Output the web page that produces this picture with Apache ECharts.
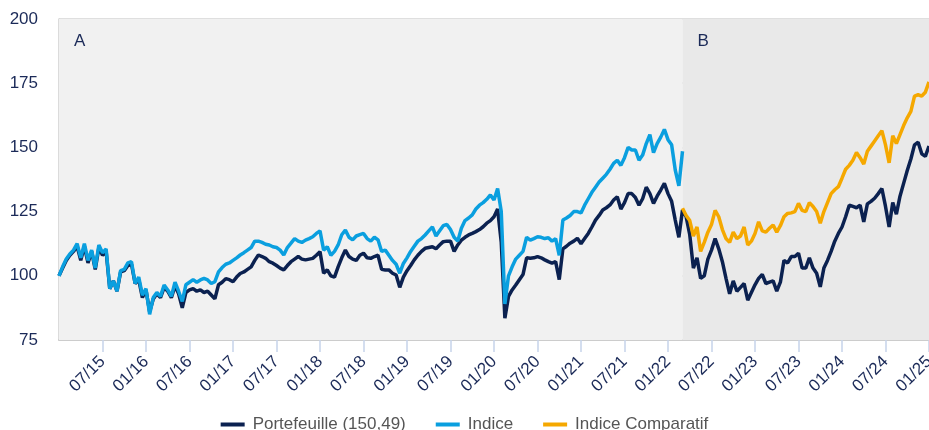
<!DOCTYPE html>
<html><head><meta charset="utf-8">
<script src="https://cdn.jsdelivr.net/npm/echarts@6/dist/echarts.min.js"></script>
<style>html,body{margin:0;padding:0;background:#fff}#c{width:929px;height:430px}</style>
</head><body><div id="c"></div>
<script>
// Semi-monthly observation dates (1st and 16th of each month), Jan 2015 .. Jan 2025
const dates = [];
for (let i = 0; i <= 240; i++) {
  const y = 2015 + Math.floor(i / 24);
  const m = Math.floor((i % 24) / 2) + 1;
  const d = i % 2 ? 16 : 1;
  dates.push(y + '-' + String(m).padStart(2, '0') + '-' + String(d).padStart(2, '0'));
}

const portefeuille = [
  100, 103, 106, 108, 109.5, 111.5, 106, 111.5, 105, 109.5,
  102.5, 111, 108, 109.5, 95, 98, 94, 101.5, 102, 104,
  104.5, 97, 98.5, 91.5, 94.5, 86, 91, 93, 91.5, 95.5,
  94, 91.5, 96, 93, 87.5, 93.5, 94.5, 95, 94, 94.5,
  93.5, 94, 92.5, 91, 96.5, 97.5, 98.9, 98.5, 97.7, 99.5,
  100.9, 101.5, 102.5, 103.5, 106, 108.1, 107.5, 106.8, 105.5, 104.9,
  104, 103, 102.3, 104, 105.5, 106.5, 107.5, 106.5, 106.2, 106.5,
  106.8, 108, 109.4, 101, 102.3, 100, 99.5, 103.5, 107, 110,
  107.5, 106.5, 106, 108, 108.8, 107, 106.8, 107.5, 108, 102.5,
  102.3, 102.3, 101, 100.3, 95.5, 99.5, 102, 104, 106.2, 108,
  109.5, 110.7, 111, 111.3, 110.5, 112, 113.3, 113.5, 113.5, 109.5,
  112, 113.9, 115, 115.9, 116.5, 117.2, 118, 119.1, 120.5, 121.5,
  123, 126, 113, 83.5, 92, 94.5, 96.4, 98.5, 100.5, 107,
  106.8, 107, 107.5, 107, 106.2, 105.5, 104.9, 105.5, 98.5, 110.5,
  111.5, 112.7, 113.5, 114.6, 112.5, 114.5, 116.5, 119, 121.7, 123.5,
  125.6, 126.5, 127.6, 129.5, 130.8, 126, 128.5, 132, 132, 130.5,
  127.5, 130, 134.5, 132, 128.2, 131, 133.4, 136, 132, 129,
  121.7, 115, 125.6, 123, 116, 103, 107, 99, 100, 106.5,
  110, 114.5, 110.5, 105.5, 99, 93, 98, 94, 95.5, 97,
  90.5, 93.5, 96.5, 99, 100.5, 97, 97.5, 98, 94, 97.5,
  106, 105, 107.5, 107.5, 108.8, 103, 103, 107, 103, 101,
  95.7, 103, 106, 109.5, 113.5, 116.5, 119, 123, 127.5, 127,
  126.5, 127.5, 121, 128, 129, 130.2, 132, 134, 127, 119,
  128.5, 124, 131, 136, 141, 145.5, 151, 152, 147.5, 146.5,
  150.5
];

const indice = [
  100, 103.5, 106.5, 108.5, 110, 112.5, 107, 112.5, 106, 110,
  103, 112, 109, 110.5, 95, 98, 94, 102, 102.5, 105,
  105.5, 97, 99.5, 92.5, 95, 85, 91.5, 93.5, 92, 96.4,
  94.5, 92, 97.5, 94, 90, 96.5, 97.5, 98.5, 97.5, 98.4,
  99, 98.4, 97, 97.7, 101.5, 103.2, 104.5, 105, 106, 107,
  108.1, 109, 110, 111, 113.5, 113.5, 113, 112.3, 112, 111.3,
  111, 110, 108.1, 111, 112.7, 114.5, 113.5, 113, 113.9, 114.5,
  115.2, 116.5, 117.5, 110, 111.3, 108, 109.5, 112, 116, 117.8,
  115, 114, 115.5, 116, 116.5, 114.5, 113.5, 115, 114, 109.5,
  110, 108, 106, 104.5, 101, 104.8, 107, 109.5, 111.5, 113.5,
  114.5, 115.9, 117.5, 119, 115.5, 117.5, 119.5, 120, 118, 115,
  113.5, 118.5, 121.5, 122.5, 123.7, 126, 127.5, 128.5, 129.8, 131.5,
  129.5, 134, 125, 89, 100, 103.5, 106.5, 108, 109.5, 115,
  113.9, 114.5, 115.2, 115, 114.5, 114.8, 113.5, 114.5, 108, 121.7,
  122.5, 123.5, 125, 125, 124.5, 127.5, 130, 132.5, 134.5, 136.5,
  138, 139.5, 141.5, 143.8, 145, 143, 146, 150, 149, 149,
  145, 147, 151.5, 155, 148, 151.5, 154, 157, 153, 151,
  141.2, 135, 148.5
];

// Indice Comparatif starts on the date where period B begins
const comparatifStart = '2022-03-01';
const comparatif = [
  126.3, 123.5, 121.5, 115.5, 119, 109.5, 113, 117,
  120, 125.5, 123, 118, 114.5, 113, 117, 114.5, 115.5, 119,
  112, 113.5, 116.5, 121, 117.5, 117, 118.5, 119.8, 117, 119.5,
  123, 124.3, 124.5, 125, 128.2, 125.5, 125, 128.5, 127, 125,
  120.5, 125, 128.5, 132, 133.5, 134.7, 138, 141.5, 143, 145,
  148, 146, 143.5, 148.5, 150.5, 152.5, 154.5, 156.5, 151, 144,
  154.5, 151.5, 155, 158.5, 161.5, 164, 170, 170.5, 170, 171.5,
  175.5
];

const seriesNames = ['Portefeuille (150,49)', 'Indice', 'Indice Comparatif'];
const seriesColors = ['#0b2150', '#0a9fdf', '#f5a800'];
const periods = [
  { name: 'A', from: '2015-01-01', to: '2022-03-01', color: '#f1f1f1' },
  { name: 'B', from: '2022-03-01', to: '2025-01-01', color: '#e9e9e9' }
];
const yTicks = [75, 100, 125, 150, 175, 200];
const xTickDates = ['2015-07-01','2016-01-01','2016-07-01','2017-01-01','2017-07-01','2018-01-01','2018-07-01',
  '2019-01-01','2019-07-01','2020-01-01','2020-07-01','2021-01-01','2021-07-01','2022-01-01','2022-07-01',
  '2023-01-01','2023-07-01','2024-01-01','2024-07-01','2025-01-01'];

function toX(s) {
  const p = s.split('-').map(Number);
  return p[0] + (p[1] - 1) / 12 + (p[2] - 1) / 360;
}
function fmt(v) {
  const y = Math.floor(v + 1e-6);
  const frac = v - y;
  const m = Math.round(frac * 12) + 1;
  return String(m).padStart(2, '0') + '/' + String(y % 100).padStart(2, '0');
}

const compOffset = dates.indexOf(comparatifStart);
const font = "'Liberation Sans', Arial, sans-serif";
const navy = '#1b2a58';

const chart = echarts.init(document.getElementById('c'), null, { renderer: 'canvas' });
chart.setOption({
  animation: false,
  grid: { left: 59, right: 0, top: 19, bottom: 90, containLabel: false, outerBoundsMode: 'none' },
  legend: {
    data: seriesNames,
    left: 'center',
    top: 411,
    icon: 'rect',
    itemWidth: 24,
    itemHeight: 4,
    itemGap: 30,
    textStyle: { fontSize: 17, color: '#555555', fontFamily: font, padding: [0, 0, 0, 3] }
  },
  xAxis: {
    type: 'value',
    min: toX(dates[0]),
    max: toX('2025-01-01'),
    interval: 0.5,
    splitLine: { show: false },
    axisLine: { show: true, lineStyle: { color: '#cccccc', width: 2 } },
    axisTick: { show: true, length: 12, lineStyle: { color: '#c6d3ea', width: 1.5 },
      customValues: xTickDates.map(toX) },
    axisLabel: { rotate: 45, margin: 19, fontSize: 17, color: navy, fontFamily: font,
      customValues: xTickDates.map(toX), formatter: fmt }
  },
  yAxis: {
    type: 'value',
    min: yTicks[0],
    max: yTicks[yTicks.length - 1],
    interval: 25,
    axisLine: { show: true, lineStyle: { color: '#cfcfcf', width: 1.5 } },
    axisTick: { show: false },
    axisLabel: { fontSize: 17, color: navy, fontFamily: font, margin: 21 },
    splitLine: { show: true, lineStyle: { color: '#d4d4d4', width: 1.5 } }
  },
  series: [
    {
      type: 'line', data: [], z: -1, silent: true,
      markArea: {
        silent: true,
        data: periods.map(p => [
          { name: p.name, xAxis: toX(p.from), itemStyle: { color: p.color },
            label: { show: true, position: 'insideTopLeft', offset: [10, 9], color: navy, fontSize: 17, fontFamily: font } },
          { xAxis: toX(p.to) }
        ])
      }
    },
    {
      name: seriesNames[0], type: 'line', showSymbol: false, z: 3,
      data: portefeuille.map((v, i) => [toX(dates[i]), v]),
      lineStyle: { width: 3.5, color: seriesColors[0] }, itemStyle: { color: seriesColors[0] }
    },
    {
      name: seriesNames[1], type: 'line', showSymbol: false, z: 4,
      data: indice.map((v, i) => [toX(dates[i]), v]),
      lineStyle: { width: 3.5, color: seriesColors[1] }, itemStyle: { color: seriesColors[1] }
    },
    {
      name: seriesNames[2], type: 'line', showSymbol: false, z: 4,
      data: comparatif.map((v, j) => [toX(dates[j + compOffset]), v]),
      lineStyle: { width: 3.5, color: seriesColors[2] }, itemStyle: { color: seriesColors[2] }
    }
  ]
});
</script>
</body></html>
